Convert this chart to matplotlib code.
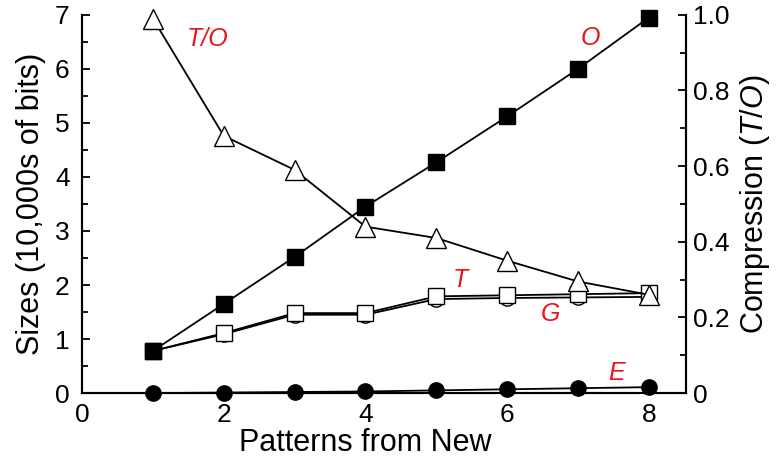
import matplotlib
matplotlib.use("Agg")
import matplotlib.pyplot as plt
from matplotlib.ticker import MultipleLocator

plt.rcParams.update({
    "font.family": ["Liberation Sans", "DejaVu Sans"],
    "mathtext.fontset": "custom",
    "mathtext.rm": "Liberation Sans",
    "mathtext.it": "Liberation Sans:italic",
})

# data
patterns = [1, 2, 3, 4, 5, 6, 7, 8]
size_O = [0.78, 1.65, 2.52, 3.45, 4.27, 5.12, 6.0, 6.95]
size_T = [0.78, 1.11, 1.48, 1.48, 1.79, 1.81, 1.83, 1.85]
size_G = [0.78, 1.09, 1.45, 1.45, 1.74, 1.76, 1.77, 1.78]
size_E = [0.0, 0.01, 0.02, 0.03, 0.05, 0.07, 0.09, 0.11]
ratio_TO = [0.99, 0.68, 0.59, 0.44, 0.41, 0.35, 0.295, 0.26]

RED = "#e8141c"
XMAX = 8.52

fig = plt.figure(figsize=(7.76, 4.63), dpi=100)
ax = fig.add_axes([0.1057, 0.151, 0.778, 0.817])
ax2 = ax.twinx()

lw = 1.3
ax.plot(patterns, size_E, color="black", lw=lw, marker="o", ms=11,
        mfc="black", mec="black", zorder=3, clip_on=False)
ax.plot(patterns, size_G, color="black", lw=lw, marker="o", ms=11,
        mfc="white", mec="black", mew=1.0, zorder=3)
ax.plot(patterns, size_T, color="black", lw=lw, marker="s", ms=12,
        mfc="white", mec="black", mew=1.0, zorder=4)
ax.plot(patterns, size_O, color="black", lw=lw, marker="s", ms=12,
        mfc="black", mec="black", zorder=5, clip_on=False)
ax2.plot(patterns, ratio_TO, color="black", lw=lw, marker="^", ms=15,
         mfc="white", mec="black", mew=1.0, zorder=6, clip_on=False)

# direct series labels
lab = dict(color=RED, fontsize=18, style="italic", ha="center", va="center")
ax.text(1.77, 6.55, "T/O", **lab)
ax.text(7.17, 6.57, "O", **lab)
ax.text(5.34, 2.09, "T", **lab)
ax.text(6.61, 1.46, "G", **lab)
ax.text(7.54, 0.37, "E", **lab)

ax.set_xlim(0, XMAX)
ax.set_ylim(0, 7)
ax2.set_ylim(0, 1.0)
ax.set_xticks([0, 2, 4, 6, 8])
ax.set_yticks(range(0, 8))
ax.yaxis.set_minor_locator(MultipleLocator(0.5))
ax2.set_yticks([0, 0.2, 0.4, 0.6, 0.8, 1.0])
ax2.set_yticklabels(["0", "0.2", "0.4", "0.6", "0.8", "1.0"])
ax2.yaxis.set_minor_locator(MultipleLocator(0.1))

for a in (ax, ax2):
    a.spines["top"].set_visible(False)
    for s in a.spines.values():
        s.set_linewidth(1.5)
ax.tick_params(axis="x", length=0, labelsize=19, pad=7)
ax.tick_params(axis="y", which="major", direction="in", length=6, width=1.3,
               labelsize=19, pad=9)
ax.tick_params(axis="y", which="minor", direction="in", length=4, width=1.3)
ax2.tick_params(axis="y", which="major", direction="in", length=6, width=1.3,
                labelsize=19, pad=5)
ax2.tick_params(axis="y", which="minor", direction="in", length=4, width=1.3)

ax.set_xlabel("Patterns from New", fontsize=22)
ax.xaxis.set_label_coords(4 / XMAX, -0.092)
ax.set_ylabel("Sizes (10,000s of bits)", fontsize=22, labelpad=6)
ax2.set_ylabel("Compression ($\\mathit{T/O}$)", fontsize=22, labelpad=6)

fig.savefig("out.png", dpi=100)
